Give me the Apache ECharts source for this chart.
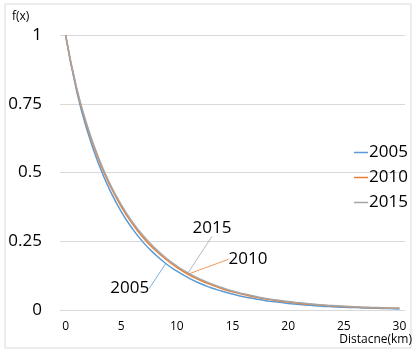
<!DOCTYPE html>
<html>
<head>
<meta charset="utf-8">
<script src="https://cdn.jsdelivr.net/npm/echarts@6/dist/echarts.min.js"></script>
<style>
html,body{margin:0;padding:0;background:#fff;}
#c{width:420px;height:355px;}
</style>
</head>
<body>
<div id="c"></div>
<script>
const distances = [0,1,2,3,4,5,6,7,8,9,10,11,12,13,14,15,16,17,18,19,20,21,22,23,24,25,26,27,28,29,30];
const yTicks = [0, 0.25, 0.5, 0.75, 1];
const seriesNames = ['2005', '2010', '2015'];
const f2005 = [1,0.795,0.645,0.528,0.434,0.358,0.296,0.245,0.204,0.169,0.141,0.118,0.098,0.082,0.069,0.058,0.048,0.041,0.034,0.029,0.024,0.020,0.017,0.014,0.012,0.010,0.009,0.007,0.006,0.005,0.004];
const f2010 = [1,0.803,0.659,0.544,0.452,0.376,0.314,0.262,0.220,0.185,0.155,0.130,0.110,0.093,0.078,0.066,0.056,0.047,0.040,0.034,0.029,0.024,0.021,0.018,0.015,0.013,0.011,0.009,0.008,0.007,0.006];
const f2015 = [1,0.807,0.664,0.550,0.458,0.383,0.320,0.269,0.226,0.190,0.160,0.135,0.114,0.097,0.082,0.069,0.059,0.050,0.042,0.036,0.031,0.026,0.022,0.019,0.016,0.014,0.012,0.010,0.009,0.007,0.006];
const colors = ['#5B9BD5', '#ED7D31', '#A5A5A5'];
const labelIndex = [9, 11, 11];
const labelShift = [[-36, 25], [60, -15], [24, -45]];

const FONT = 'Open Sans';
const values = [f2005, f2010, f2015];

function buildData(arr, si) {
  return arr.map((v, i) => {
    if (i !== labelIndex[si]) return v;
    return {
      value: v,
      label: {
        show: true,
        position: 'inside',
        formatter: seriesNames[si],
        color: '#000',
        fontSize: 17,
        fontFamily: FONT
      },
      labelLine: {
        show: true,
        lineStyle: { color: colors[si], width: 0.8 }
      }
    };
  });
}

const series = seriesNames.map((name, si) => ({
  name: name,
  type: 'line',
  smooth: true,
  symbol: 'circle',
  symbolSize: 0.1,
  showSymbol: true,
  itemStyle: { color: colors[si] },
  lineStyle: { color: colors[si], width: 1.5 },
  data: buildData(values[si], si),
  labelLayout: function (p) {
    return { dx: labelShift[si][0], dy: labelShift[si][1] };
  },
  labelLine: { show: true, lineStyle: { color: colors[si], width: 0.8 } },
  z: 2 + si
}));

const chart = echarts.init(document.getElementById('c'), null, { renderer: 'canvas' });
chart.setOption({
  animation: false,
  backgroundColor: '#fff',
  color: colors,
  textStyle: { fontFamily: FONT },
  graphic: [{
    type: 'rect',
    shape: { x: 5, y: 4, width: 406, height: 344 },
    style: { fill: 'none', stroke: '#d9d9d9', lineWidth: 1 },
    silent: true
  }],
  title: [
    { text: 'f(x)', left: 12, top: 11, padding: 0,
      textStyle: { fontSize: 12, fontWeight: 'normal', color: '#000', fontFamily: FONT } },
    { text: 'Distacne(km)', right: 8, top: 334, padding: 0,
      textStyle: { fontSize: 12, fontWeight: 'normal', color: '#000', fontFamily: FONT } }
  ],
  legend: {
    data: seriesNames,
    orient: 'vertical',
    left: 349,
    top: 139,
    icon: 'rect',
    itemWidth: 14,
    itemHeight: 1.5,
    itemGap: 8,
    textStyle: { fontSize: 17, color: '#000', fontFamily: FONT, padding: [0, 0, 0, -4] }
  },
  grid: { left: 60, right: 15, top: 35, bottom: 45 },
  xAxis: {
    type: 'category',
    data: distances,
    boundaryGap: true,
    axisLine: { show: true, lineStyle: { color: '#d9d9d9' } },
    axisTick: { show: false },
    axisLabel: { interval: 4, color: '#000', fontSize: 12, margin: 11, fontFamily: FONT },
    splitLine: { show: false }
  },
  yAxis: {
    type: 'value',
    min: yTicks[0],
    max: yTicks[yTicks.length - 1],
    interval: yTicks[1] - yTicks[0],
    axisLine: { show: false },
    axisTick: { show: false },
    axisLabel: { color: '#000', fontSize: 17, margin: 18, fontFamily: FONT },
    splitLine: { lineStyle: { color: '#d9d9d9' } }
  },
  series: series
});
</script>
</body>
</html>
